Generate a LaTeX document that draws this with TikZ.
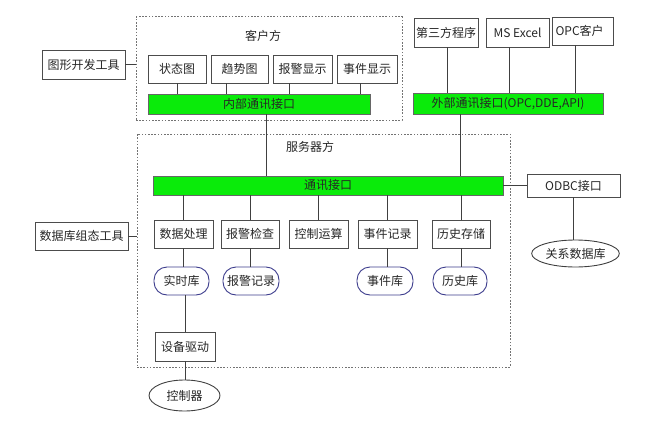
\documentclass[tikz,border=0pt]{standalone}
\usepackage{fontspec}
\newfontfamily\cjk{Noto Sans CJK SC}
\usepackage{tikz}
\usetikzlibrary{shapes.geometric}
\usepackage{xcolor}
\definecolor{busgreen}{RGB}{10,235,10}
\definecolor{storeblue}{RGB}{60,60,140}

\begin{document}
\begin{tikzpicture}[x=1pt,y=-1pt,
  every node/.style={font=\cjk\fontsize{12}{14}\selectfont,text=black!85},
  box/.style={draw=black!70,line width=0.9pt,minimum height=28pt,inner sep=2pt},
  bus/.style={draw=black!60,fill=busgreen,line width=0.9pt,inner sep=1pt},
  store/.style={draw=storeblue,line width=0.9pt,rounded corners=13pt,minimum height=28pt,inner sep=2pt},
  db/.style={ellipse,draw=black!75,line width=0.9pt,inner sep=1pt},
  zone/.style={draw=black!55,line width=1pt,dash pattern=on 1.6pt off 1.6pt},
  link/.style={draw=black!75,line width=0.8pt}
]
\useasboundingbox (0,0) rectangle (653,428);

% client side
\node[zone,minimum width=266pt,minimum height=103pt] (client) at (269,68.5) {};
\node (clienttitle) at (263,36) {客户方};
\node[box,minimum width=58pt] (state)  at (177,69)   {状态图};
\node[box,minimum width=57pt] (trend)  at (239.5,69) {趋势图};
\node[box,minimum width=59pt] (alarmd) at (302.5,69) {报警显示};
\node[box,minimum width=60pt] (eventd) at (367,69)   {事件显示};
\node[bus,minimum width=222pt,minimum height=20pt] (inbus) at (259,104) {内部通讯接口};
\node[box,minimum width=83pt,minimum height=29pt] (gfxtool) at (83.5,64.5) {图形开发工具};

% outside clients
\node[box,minimum width=62pt,minimum height=29pt] (third) at (446,32.5)   {第三方程序};
\node[box,minimum width=63pt,minimum height=29pt] (excel) at (517.5,32.5) {MS Excel};
\node[box,text width=55pt,align=left,minimum height=28pt,inner sep=3pt] (opc) at (583,31) {OPC客户};
\node[bus,minimum width=190pt,minimum height=21pt] (exbus) at (508,103.5) {外部通讯接口(OPC,DDE,API)};

% server side
\node[zone,minimum width=373pt,minimum height=233pt] (server) at (323.5,250.5) {};
\node (servertitle) at (310,147) {服务器方};
\node[bus,minimum width=350pt,minimum height=19pt] (sbus) at (328,185.5) {通讯接口};
\node[box,minimum width=59pt] (proc)   at (183.5,234) {数据处理};
\node[box,minimum width=58pt] (check)  at (250,234)   {报警检查};
\node[box,minimum width=59pt] (calc)   at (318.5,234) {控制运算};
\node[box,minimum width=59pt] (evlog)  at (387.5,234) {事件记录};
\node[box,minimum width=58pt] (hist)   at (461,234)   {历史存储};
\node[store,minimum width=55pt] (rtdb)   at (181.5,281) {实时库};
\node[store,minimum width=56pt] (alarmr) at (251,281)   {报警记录};
\node[store,minimum width=56pt] (evdb)   at (385,281)   {事件库};
\node[store,minimum width=54pt] (histdb) at (460,281)   {历史库};
\node[box,minimum width=60pt,minimum height=29pt] (driver) at (185,346.5) {设备驱动};
\node[db,minimum width=71pt,minimum height=31pt] (ctrl) at (184.5,395.5) {控制器};
\node[box,minimum width=93pt] (dbtool) at (81.5,236) {数据库组态工具};

% odbc
\node[box,minimum width=93pt,minimum height=23pt] (odbc) at (573.5,185.5) {ODBC接口};
\node[db,minimum width=71pt,minimum height=27pt] (reldb) at (575.5,253.5) {关系数据库};

% tools to the two sides
\draw[link] (gfxtool.east) -- (client.west |- gfxtool.east);
\draw[link] (dbtool.east) -- (server.west |- dbtool.east);

% views on the inner bus
\foreach \n/\dx in {state/0,trend/-13,alarmd/-13,eventd/-7}
  \draw[link] ([xshift=\dx pt]\n.south) -- ([xshift=\dx pt]\n.south |- inbus.north);
\draw[link] ([xshift=7pt]inbus.south) -- ([xshift=7pt]inbus.south |- sbus.north);

% outside clients on the external bus
\foreach \n/\dx in {third/1,excel/-8.5,opc/-8}
  \draw[link] ([xshift=\dx pt]\n.south) -- ([xshift=\dx pt]\n.south |- exbus.north);
\draw[link] ([xshift=-48pt]exbus.south) -- ([xshift=-48pt]exbus.south |- sbus.north);

% server modules
\foreach \n in {proc,check,calc,evlog,hist}
  \draw[link] (\n.north) -- (\n.north |- sbus.south);
\draw[link] (proc.south) -- (proc.south |- rtdb.north);
\draw[link] (check.south) -- (check.south |- alarmr.north);
\draw[link] (evlog.south) -- (evlog.south |- evdb.north);
\draw[link] (hist.south) -- (hist.south |- histdb.north);
\draw[link] (driver.north |- rtdb.south) -- (driver.north);
\draw[link] (driver.south) -- (driver.south |- ctrl.north);

% database link
\draw[link] (sbus.east) -- (odbc.west);
\draw[link] (odbc.south) -- (odbc.south |- reldb.north);

\end{tikzpicture}
\end{document}
